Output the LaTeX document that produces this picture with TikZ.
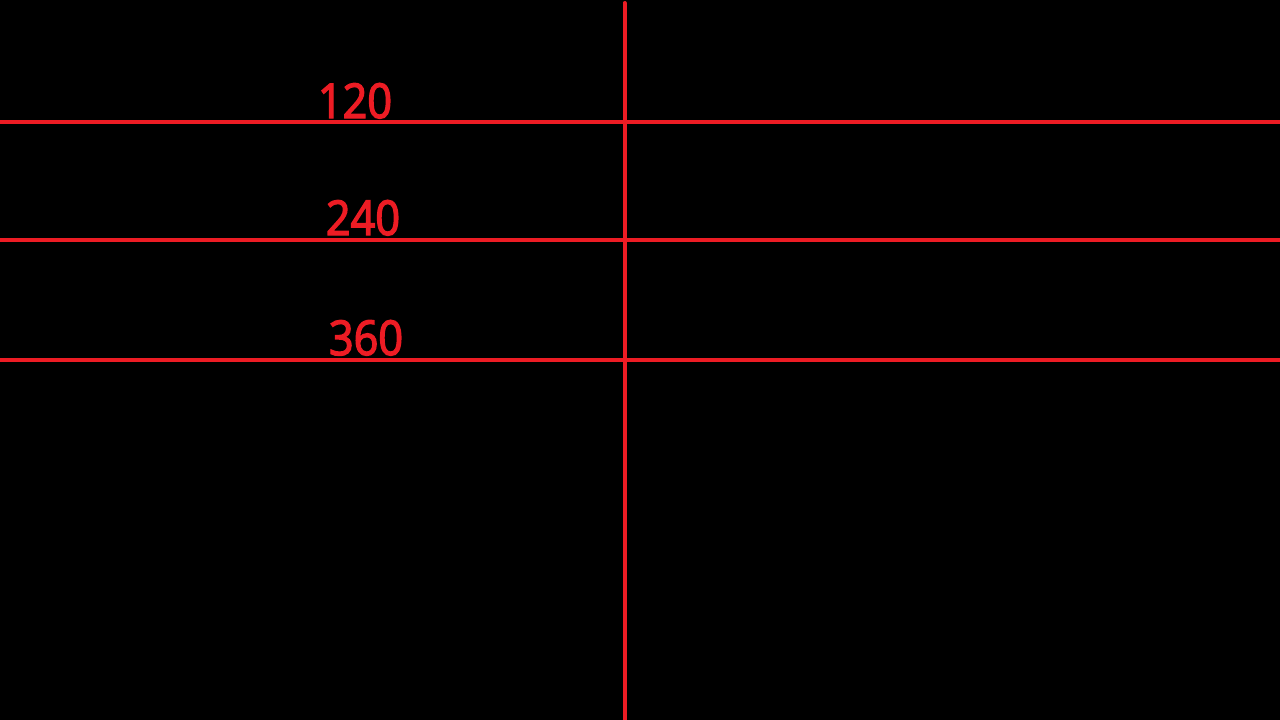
\documentclass[tikz,border=0pt]{standalone}
\usepackage{fontspec}
\setmainfont{Open Sans}
\newfontfamily\numfont[FakeBold=3]{Open Sans}
\usetikzlibrary{positioning}
\definecolor{ln}{RGB}{237,28,36}

\begin{document}
\begin{tikzpicture}[x=1pt,y=-1pt,
    grid/.style={draw=ln,line width=4pt},
    lbl/.style={text=ln,font=\numfont\fontsize{48}{48}\selectfont,anchor=base,inner sep=0pt,xscale=0.9},
]
\fill[black] (0,0) rectangle (1280,720);
\useasboundingbox (0,0) rectangle (1280,720);

\coordinate (vt) at (624.5,3);
\coordinate (vb) at (624.5,720);
\coordinate (l1) at (0,122); \coordinate (r1) at (1280,122);
\coordinate (l2) at (0,240); \coordinate (r2) at (1280,240);
\coordinate (l3) at (0,360); \coordinate (r3) at (1280,360);

\draw[grid] (l1) -- (r1);
\draw[grid] (l2) -- (r2);
\draw[grid] (l3) -- (r3);
\draw[grid,line cap=round] (vt) -- (vb);

\node[lbl] (t1) at (355,118) {120};
\node[lbl] (t2) at (363,235) {240};
\node[lbl] (t3) at (366,355) {360};
\end{tikzpicture}
\end{document}
